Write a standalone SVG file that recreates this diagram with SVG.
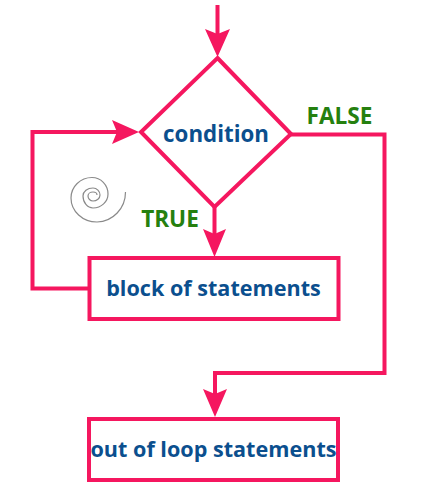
<svg xmlns="http://www.w3.org/2000/svg" width="424" height="489" viewBox="0 0 424 489">
<style>
.l{fill:none;stroke:#f5175f;stroke-width:4;stroke-linejoin:miter}
.h{fill:#f5175f}
.n{fill:#fff;stroke:#f5175f;stroke-width:4}
.t{font-family:"Open Sans","Noto Sans",sans-serif;font-weight:700;fill:#0b4f8e;font-size:21.600px;text-anchor:middle}
.g{font-family:"Open Sans","Noto Sans",sans-serif;font-weight:700;fill:#25800f;font-size:22.600px;text-anchor:middle}
</style>
<rect width="424" height="489" fill="#fff"/>
<g id="connectors">
<path class="l" d="M217.500 5V35"/>
<path class="h" d="M205 29L217.500 34L230 29L217.500 57Z"/>
<path class="l" d="M214.500 207V235"/>
<path class="h" d="M203 229L214.500 234L226 229L214.500 257Z"/>
<path class="l" d="M89 288.500H32.500V132H118"/>
<path class="h" d="M112 120L117 132L112 144L139 132Z"/>
<path class="l" d="M291 134.500H384.500V373H215V395"/>
<path class="h" d="M203 389L215 394L227 389L215 417Z"/>
</g>
<g id="condition">
<path class="n" d="M217.500 58L291 134L214.500 207L141 132Z"/>
<text class="t" x="216" y="141.500" style="font-size:22.300px">condition</text>
</g>
<g id="block">
<rect class="n" x="89.500" y="258" width="249" height="61"/>
<text class="t" x="213.500" y="296">block of statements</text>
</g>
<g id="out">
<rect class="n" x="89" y="419" width="249" height="61"/>
<text class="t" x="213.500" y="456.500">out of loop statements</text>
</g>
<g id="labels">
<text class="g" x="339.500" y="123.500">FALSE</text>
<text class="g" x="170" y="226.500">TRUE</text>
</g>
<path d="M125.500 192A29 30 0 0 1 97 222A26 24 0 0 1 71 198A21 20.500 0 0 1 92 177.500A16 16.500 0 0 1 108 194A15 14 0 0 1 93 208A10 12 0 0 1 83 196A10 8 0 0 1 93 188A7 7 0 0 1 100 195A7 6 0 0 1 93 201A5 5 0 0 1 88 196A5 4 0 0 1 93 192A4 3 0 0 1 97 195" fill="none" stroke="#8a8a8a" stroke-width="1.200"/>
</svg>
